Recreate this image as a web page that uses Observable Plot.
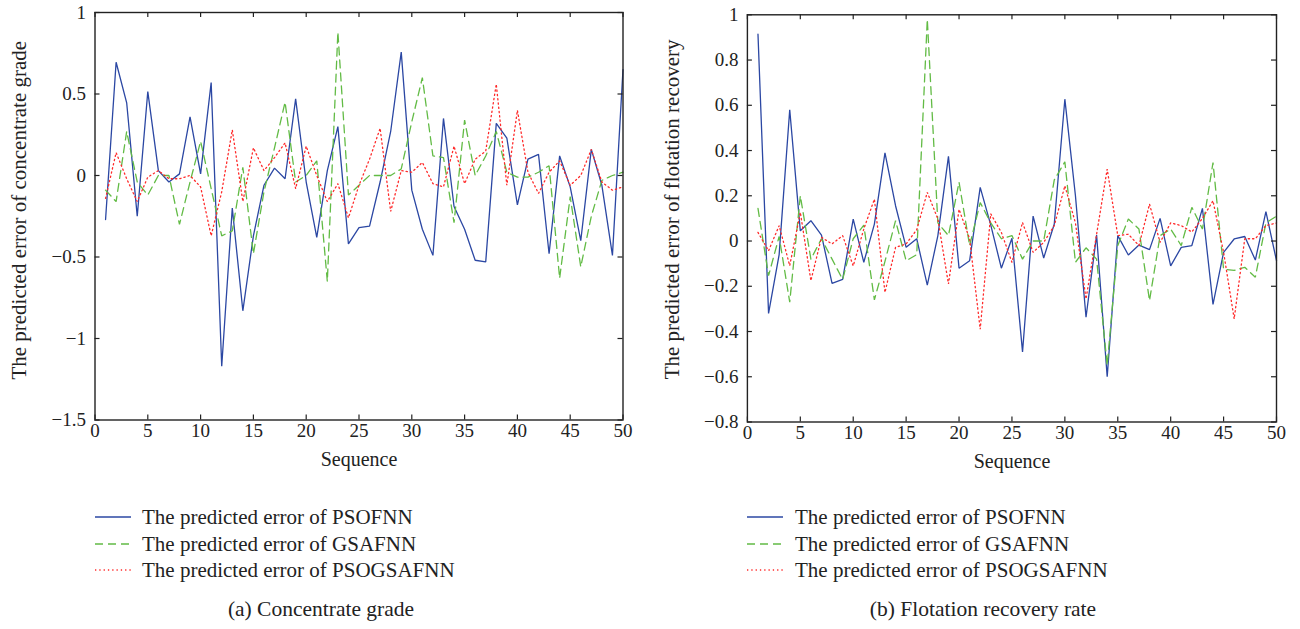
<!DOCTYPE html>
<html><head><meta charset="utf-8">
<script src="https://cdn.jsdelivr.net/npm/d3@7"></script>
<script src="https://cdn.jsdelivr.net/npm/@observablehq/plot@0.6"></script>
<style>
body{margin:0;background:#fff;font-family:"Liberation Serif","DejaVu Serif",serif;color:#222}
#page{position:relative;width:1300px;height:629px;overflow:hidden;background:#fff}
.panel{position:absolute;top:0;width:650px;height:485px}
.row{position:absolute;white-space:nowrap;font-size:21px;line-height:24px;height:24px}
.row svg{position:absolute;top:7px}
.row span{position:absolute;top:0}
.caption{position:absolute;font-size:21.5px;white-space:nowrap;transform:translate(-50%,-50%)}
</style></head>
<body><div id="page"></div>
<script>
// ---------- data ----------
const sequence = d3.range(1, 51);
const xTicks = [0, 5, 10, 15, 20, 25, 30, 35, 40, 45, 50];
const gradeTicks = [-1.5, -1, -0.5, 0, 0.5, 1];
const recoveryTicks = [-0.8, -0.6, -0.4, -0.2, 0, 0.2, 0.4, 0.6, 0.8, 1];
const seriesNames = ["The predicted error of PSOFNN", "The predicted error of GSAFNN", "The predicted error of PSOGSAFNN"];

const gradePSOFNN = [-0.27, 0.695, 0.446, -0.25, 0.515, 0.03, -0.04, 0.01, 0.36, 0.01,
  0.57, -1.17, -0.2, -0.83, -0.37, -0.06, 0.045, -0.02, 0.47, -0.04,
  -0.38, 0.03, 0.30, -0.42, -0.32, -0.31, -0.04, 0.27, 0.757, -0.09,
  -0.33, -0.49, 0.35, -0.19, -0.33, -0.52, -0.53, 0.32, 0.23, -0.18,
  0.10, 0.13, -0.48, 0.12, -0.07, -0.40, 0.16, -0.06, -0.49, 0.65];
const gradeGSAFNN = [-0.09, -0.16, 0.27, -0.04, -0.12, 0.0, 0.0, -0.30, -0.04, 0.21,
  -0.08, -0.37, -0.34, 0.05, -0.48, -0.10, 0.17, 0.45, -0.04, 0.0,
  0.09, -0.65, 0.88, -0.12, -0.06, 0.0, 0.0, 0.0, 0.04, 0.33,
  0.60, 0.12, 0.11, -0.29, 0.34, 0.0, 0.12, 0.27, 0.02, -0.01,
  -0.01, 0.02, 0.06, -0.63, -0.13, -0.56, -0.25, -0.03, 0.0, 0.02];
const gradePSOGSAFNN = [-0.14, 0.14, -0.02, -0.16, -0.01, 0.03, -0.02, -0.02, 0.0, -0.07,
  -0.37, -0.10, 0.28, -0.16, 0.17, 0.03, 0.11, 0.20, -0.08, 0.18,
  0.0, -0.16, -0.05, -0.26, -0.06, 0.10, 0.29, -0.22, 0.03, 0.02,
  0.08, -0.05, -0.07, 0.18, -0.05, 0.10, 0.15, 0.56, -0.06, 0.40,
  0.02, -0.11, 0.02, 0.09, -0.06, 0.0, 0.16, -0.04, -0.09, -0.07];

const recoveryPSOFNN = [0.914, -0.32, -0.06, 0.58, 0.045, 0.09, 0.026, -0.187, -0.17, 0.097,
  -0.094, 0.075, 0.39, 0.156, -0.028, 0.01, -0.195, 0.024, 0.374, -0.12,
  -0.087, 0.237, 0.07, -0.12, 0.012, -0.49, 0.11, -0.075, 0.075, 0.627,
  0.2, -0.337, 0.026, -0.60, 0.024, -0.062, -0.018, -0.038, 0.10, -0.11,
  -0.028, -0.02, 0.144, -0.28, -0.05, 0.009, 0.02, -0.084, 0.13, -0.087];
const recoveryGSAFNN = [0.144, -0.153, 0.02, -0.27, 0.2, -0.08, 0.01, -0.08, -0.17, 0.01,
  0.07, -0.26, -0.09, 0.09, -0.087, -0.06, 0.98, 0.08, 0.024, 0.26,
  -0.02, 0.17, 0.08, 0.01, 0.024, -0.08, 0.0, 0.0, 0.27, 0.35,
  -0.094, -0.03, -0.08, -0.55, -0.02, 0.097, 0.053, -0.263, 0.024, 0.053,
  -0.02, 0.149, 0.053, 0.347, -0.124, -0.13, -0.116, -0.16, 0.08, 0.11];
const recoveryPSOGSAFNN = [0.038, -0.043, 0.068, -0.109, 0.127, -0.175, 0.016, -0.013, 0.024, -0.11,
  0.053, 0.185, -0.227, -0.028, -0.013, 0.05, 0.215, 0.097, -0.19, 0.14,
  0.01, -0.39, 0.12, 0.038, -0.094, 0.082, -0.05, -0.006, 0.068, 0.244,
  0.08, -0.256, 0.03, 0.318, 0.024, 0.03, -0.02, 0.163, -0.006, 0.08,
  0.068, 0.04, 0.1, 0.178, -0.05, -0.344, 0.01, 0.01, 0.068, 0.08];

// ---------- styling ----------
const FONT = '"Liberation Serif","DejaVu Serif",serif';
const styles = [
  {color: "#2b47a3", dash: null},
  {color: "#62bb45", dash: "8,5"},
  {color: "#ff2a2a", dash: "1.3,3"}
];
const fmt = d => (d < 0 ? "\u2212" : "") + String(Math.abs(d));

function panel(cfg) {
  const W = 650, H = 485, tl = 5;
  const pw = W - cfg.ml - cfg.mr, ph = H - cfg.mt - cfg.mb;
  const lines = cfg.series.map((vals, k) => {
    const rows = sequence.map((s, i) => ({seq: s, value: vals[i]}));
    return Plot.line(rows, {x: "seq", y: "value", stroke: styles[k].color, strokeWidth: 1.3,
      strokeDasharray: styles[k].dash, strokeLinejoin: "miter"});
  });
  return Plot.plot({
    width: W, height: H,
    marginLeft: cfg.ml, marginRight: cfg.mr, marginTop: cfg.mt, marginBottom: cfg.mb,
    style: {fontFamily: FONT, fontSize: "19px", color: "#222", background: "transparent"},
    x: {domain: [0, 50], axis: null},
    y: {domain: cfg.yDomain, axis: null},
    marks: [
      ...lines,
      Plot.tickY(cfg.yTicks, {y: d => d, insetRight: pw - tl, stroke: "#222", strokeWidth: 1.2}),
      Plot.tickY(cfg.yTicks, {y: d => d, insetLeft: pw - tl, stroke: "#222", strokeWidth: 1.2}),
      Plot.tickX(xTicks, {x: d => d, insetBottom: ph - tl, stroke: "#222", strokeWidth: 1.2}),
      Plot.tickX(xTicks, {x: d => d, insetTop: ph - tl, stroke: "#222", strokeWidth: 1.2}),
      Plot.frame({stroke: "#222", strokeWidth: 1.4}),
      // tick labels through the scales
      Plot.text(xTicks, {x: d => d, text: d => String(d), frameAnchor: "bottom", dy: 11,
        lineAnchor: "middle", textAnchor: "middle", fontSize: 19, fill: "#222"}),
      Plot.text(cfg.yTicks, {y: d => d, text: fmt, frameAnchor: "left", dx: -9,
        textAnchor: "end", lineAnchor: "middle", fontSize: 19, fill: "#222"}),
      Plot.text(["Sequence"], {text: d => d, frameAnchor: "bottom", dy: 40, lineAnchor: "middle", fontSize: 20}),
      Plot.text([cfg.yLabel], {text: d => d, frameAnchor: "left", dx: cfg.labelDx, dy: cfg.labelDy, rotate: -90,
        textAnchor: "middle", lineAnchor: "middle", fontSize: 21})
    ]
  });
}

const page = document.getElementById("page");
function addPanel(left, cfg, legendX, textX, caption, captionX) {
  const wrap = document.createElement("div");
  wrap.className = "panel";
  wrap.style.left = left + "px";
  wrap.appendChild(panel(cfg));
  page.appendChild(wrap);
  const rowsY = [517, 543.5, 570];
  seriesNames.forEach((name, k) => {
    const row = document.createElement("div");
    row.className = "row";
    row.style.left = legendX + "px";
    row.style.top = (rowsY[k] - 12) + "px";
    const s = styles[k];
    row.innerHTML = `<svg width="36" height="10" style="left:0"><line x1="0" x2="36" y1="5" y2="5" stroke="${s.color}" stroke-width="1.3" ${s.dash ? `stroke-dasharray="${s.dash}"` : ""}/></svg><span style="left:${textX - legendX}px">${name}</span>`;
    page.appendChild(row);
  });
  const cap = document.createElement("div");
  cap.className = "caption";
  cap.style.left = captionX + "px";
  cap.style.top = "609px";
  cap.textContent = caption;
  page.appendChild(cap);
}

addPanel(0, {
  series: [gradePSOFNN, gradeGSAFNN, gradePSOGSAFNN],
  yDomain: [-1.5, 1], yTicks: gradeTicks,
  yLabel: "The predicted error of concentrate grade",
  ml: 94.5, mr: 27.5, mt: 12, mb: 65.5, labelDx: -76, labelDy: -6
}, 95, 142, "(a) Concentrate grade", 321);

addPanel(650, {
  series: [recoveryPSOFNN, recoveryGSAFNN, recoveryPSOGSAFNN],
  yDomain: [-0.8, 1], yTicks: recoveryTicks,
  yLabel: "The predicted error of flotation recovery",
  ml: 96.9, mr: 24, mt: 14.3, mb: 63.5, labelDx: -75, labelDy: -9
}, 747, 795, "(b) Flotation recovery rate", 983);
</script>
</body></html>
